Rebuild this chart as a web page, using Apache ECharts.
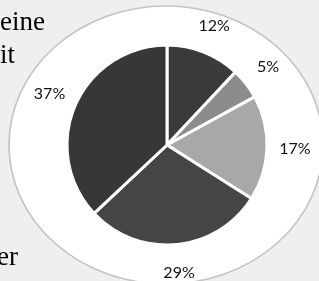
<!DOCTYPE html>
<html>
<head>
<meta charset="utf-8">
<script src="https://cdn.jsdelivr.net/npm/echarts@6/dist/echarts.min.js"></script>
<style>
  html, body { margin: 0; padding: 0; background: #efefef; }
  #chart { width: 319px; height: 281px; }
</style>
</head>
<body>
<div id="chart"></div>
<script>
// slice values, clockwise from 12 o'clock
const shares = [12, 5, 17, 29, 37]
const sliceColors = ['#3a3a3a', '#8c8c8c', '#a8a8a8', '#454545', '#373737']
// fragments of the surrounding body text, cut off at the left edge
const sideText = ['eine', 'it', 'er']

const chart = echarts.init(document.getElementById('chart'))

const pieData = shares.map((v, i) => ({
  value: v,
  name: v + '%',
  itemStyle: { color: sliceColors[i] },
}))

const serif = '27px "Liberation Serif"'

const option = {
  backgroundColor: '#efefef',
  animation: false,
  graphic: [
    {
      type: 'circle',
      x: 166, y: 145,
      scaleX: 157 / 139, scaleY: 1,
      shape: { cx: 0, cy: 0, r: 139 },
      style: { fill: '#ffffff', stroke: '#c4c4c4', lineWidth: 1.5 },
      z: -10,
    },
    {
      type: 'text', left: 0, top: 9,
      style: { text: sideText[0], font: serif, fill: '#000' },
    },
    {
      type: 'text', left: 0, top: 42,
      style: { text: sideText[1], font: serif, fill: '#000' },
    },
    {
      type: 'text', left: -3, top: 244,
      style: { text: sideText[2], font: serif, fill: '#000' },
    },
  ],
  series: [
    {
      type: 'pie',
      center: [167, 145],
      radius: [0, 100],
      startAngle: 90,
      clockwise: true,
      silent: true,
      data: pieData,
      itemStyle: { borderColor: '#ffffff', borderWidth: 3 },
      label: { show: false },
      labelLine: { show: false },
    },
    {
      // transparent ring only to place the percentage labels
      type: 'pie',
      center: [167, 145],
      radius: [112, 138],
      startAngle: 90,
      clockwise: true,
      silent: true,
      data: shares.map(v => ({ value: v, name: v + '%' })),
      itemStyle: { color: 'rgba(0,0,0,0)' },
      label: {
        show: true,
        position: 'inside',
        formatter: '{b}',
        color: '#111',
        fontFamily: 'Lato',
        fontSize: 16,
      },
      labelLine: { show: false },
    },
  ],
}

chart.setOption(option)
</script>
</body>
</html>
